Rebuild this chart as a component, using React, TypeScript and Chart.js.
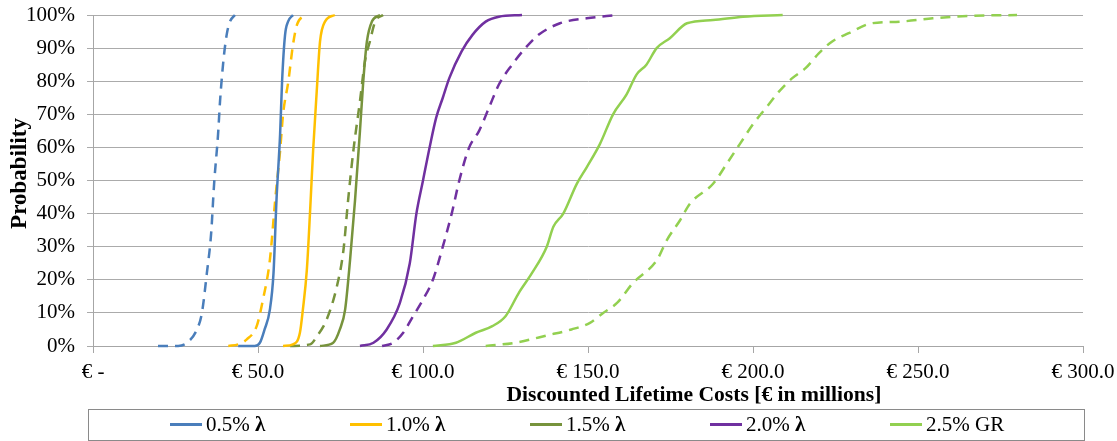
import React, { useEffect, useRef } from 'react';
import { Chart, registerables } from 'chart.js';

Chart.register(...registerables);

const FONT = '"Liberation Serif", "Times New Roman", Times, serif';

// Discounted lifetime cost (€ millions) vs cumulative probability (%)
const lambda05Solid: [number, number][] = [
  [44, 0], [49, 0], [50.6, 1], [52, 5], [53.6, 11], [54.7, 22], [55.6, 44], [56.7, 64], [57.3, 80], [58.2, 94], [59.1, 98], [60.6, 100],
];
const lambda05Dashed: [number, number][] = [
  [19.7, 0], [25.8, 0], [28.5, 1], [31.5, 5], [33, 10], [34.5, 22], [35.8, 34], [36.7, 49], [37.9, 64], [38.5, 74], [39.5, 86], [40.5, 94], [41.5, 98], [43, 100],
];
const lambda10Solid: [number, number][] = [
  [57.6, 0], [60.6, 0.5], [62.7, 4], [63.6, 11], [64.8, 23], [65.8, 41], [66.7, 59], [67.8, 77], [68.8, 92], [70.3, 98], [73.3, 100],
];
const lambda10Dashed: [number, number][] = [
  [41, 0], [44, 0.5], [46.6, 2], [49.6, 6], [51.5, 14], [53.6, 26], [55.2, 44], [56.7, 59], [57.6, 70], [59.2, 80], [60.6, 91], [61.8, 97], [64.2, 100],
];
const lambda15Solid: [number, number][] = [
  [68.8, 0], [72.8, 1], [74.8, 5], [76.4, 11], [77.9, 26], [79.4, 44], [80.9, 65], [81.9, 80], [83, 92], [84.5, 98], [87, 100],
];
const lambda15Dashed: [number, number][] = [
  [59.7, 0], [65.8, 0.5], [67.9, 3], [70.8, 8], [73.9, 18], [75.9, 29], [77.3, 44], [78.9, 59], [80.9, 74], [82.4, 86], [83.9, 92], [85.5, 98], [87.9, 100],
];
const lambda20Solid: [number, number][] = [
  [80.9, 0], [85, 1], [89, 5], [93, 13], [96, 25], [98, 40], [100, 50], [102, 60], [104, 69], [106, 75], [108, 81], [111.7, 89], [115, 94], [119, 98], [123, 99.5], [130, 100],
];
const lambda20Dashed: [number, number][] = [
  [87.6, 0], [91, 1], [94, 4], [97, 9], [100, 14], [103, 20], [106, 30], [108.7, 40], [111, 50], [114, 60], [117, 65], [120, 72], [123, 79], [127, 85], [131, 90], [135, 94], [141.5, 97.5], [149.6, 99], [158.7, 100],
];
const gr25Solid: [number, number][] = [
  [103, 0], [110, 1], [116, 4], [121, 6], [125, 9], [129, 16], [133, 22], [137.5, 30], [139.5, 36], [142.5, 40], [146.6, 49], [149.6, 54], [153.6, 61], [157.6, 70], [161.7, 76], [164.7, 82], [167.7, 85], [170.8, 90], [174.8, 93], [180, 97.5], [187.9, 98.5], [197, 99.5], [209, 100],
];
const gr25Dashed: [number, number][] = [
  [119, 0], [128, 1], [138, 3.3], [145, 5], [150.6, 7], [154.6, 10], [158.8, 13], [163.6, 19], [170.9, 26], [173.9, 32], [177.9, 38], [180.9, 43], [187.9, 49], [192, 55], [196, 61], [200, 67], [204, 72], [208, 77], [212, 81], [216, 84], [220, 88.5], [224, 92], [229, 94.5], [236, 97.5], [244.5, 98], [254.5, 99], [265, 99.7], [280, 100],
];

const seriesLabels = ['0.5% λ', '1.0% λ', '1.5% λ', '2.0% λ', '2.5% GR'];
const seriesColors = ['#4A7EBB', '#FFC000', '#77933C', '#7030A0', '#92D050'];
const solidSeries = [lambda05Solid, lambda10Solid, lambda15Solid, lambda20Solid, gr25Solid];
const dashedSeries = [lambda05Dashed, lambda10Dashed, lambda15Dashed, lambda20Dashed, gr25Dashed];

const xTicks = [0, 50, 100, 150, 200, 250, 300];
const xTitle = 'Discounted Lifetime Costs [€ in millions]';
const yTitle = 'Probability';

const toPoints = (arr: [number, number][]) => arr.map(([x, y]) => ({ x, y }));

const axisTitlesPlugin = {
  id: 'axisTitles',
  afterDraw(chart: any) {
    const { ctx, chartArea } = chart;
    ctx.save();
    ctx.fillStyle = '#000';
    ctx.textAlign = 'center';
    ctx.textBaseline = 'middle';
    // x title (Excel places it right of centre)
    ctx.font = `bold 21.6px ${FONT}`;
    ctx.fillText(xTitle, chartArea.left + (chartArea.right - chartArea.left) * 0.607, chartArea.bottom + 49);
    // y title
    ctx.font = `bold 23px ${FONT}`;
    ctx.translate(20, (chartArea.top + chartArea.bottom) / 2 - 7);
    ctx.rotate(-Math.PI / 2);
    ctx.fillText(yTitle, 0, 0);
    ctx.restore();
  },
};

export default function App() {
  const ref = useRef<HTMLCanvasElement>(null);

  useEffect(() => {
    const datasets: any[] = [];
    seriesLabels.forEach((label, i) => {
      datasets.push({
        label,
        data: toPoints(solidSeries[i]),
        borderColor: seriesColors[i],
        backgroundColor: seriesColors[i],
        borderWidth: 2.5,
        showLine: true,
        pointRadius: 0,
        cubicInterpolationMode: 'monotone',
        clip: 6,
      });
      datasets.push({
        label: label + ' (dashed)',
        data: toPoints(dashedSeries[i]),
        borderColor: seriesColors[i],
        backgroundColor: seriesColors[i],
        borderWidth: 2.5,
        borderDash: [10, 7],
        showLine: true,
        pointRadius: 0,
        cubicInterpolationMode: 'monotone',
        clip: 6,
      });
    });

    const chart = new Chart(ref.current!, {
      type: 'scatter',
      data: { datasets },
      plugins: [axisTitlesPlugin],
      options: {
        animation: false,
        responsive: false,
        maintainAspectRatio: false,
        layout: { padding: { left: 0, right: 34, top: 15, bottom: 33 } },
        plugins: { legend: { display: false }, tooltip: { enabled: false } },
        scales: {
          x: {
            type: 'linear',
            min: 0,
            max: 300,
            afterBuildTicks: (s: any) => { s.ticks = xTicks.map((v) => ({ value: v })); },
            afterFit: (s: any) => { s.height = 62; s.paddingLeft = 0; s.paddingRight = 0; },
            ticks: {
              font: { family: FONT, size: 21 },
              color: '#000',
              padding: 7,
              maxRotation: 0,
              callback: (v: any) => (Number(v) === 0 ? '€ -' : '€ ' + Number(v).toFixed(1)),
            },
            grid: { drawOnChartArea: false, drawTicks: true, tickLength: 7, color: '#A6A6A6' },
            border: { color: '#A6A6A6' },
          },
          y: {
            min: 0,
            max: 100,
            afterFit: (s: any) => { s.width = 93; s.paddingTop = 0; s.paddingBottom = 0; },
            ticks: {
              stepSize: 10,
              font: { family: FONT, size: 21 },
              color: '#000',
              padding: 12,
              callback: (v: any) => v + '%',
            },
            grid: { color: '#ABABAB', tickLength: 6 },
            border: { color: '#A6A6A6' },
          },
        },
      } as any,
    });
    return () => chart.destroy();
  }, []);

  return (
    <div style={{ position: 'fixed', left: 0, top: 0, width: 1117, height: 441, background: '#fff' }}>
      <canvas ref={ref} width={1117} height={441} style={{ display: 'block' }} />
      <div
        style={{
          position: 'absolute',
          left: 88,
          top: 409,
          width: 997,
          height: 32,
          border: '1.5px solid #8A8A8A',
          boxSizing: 'border-box',
          fontFamily: FONT,
          fontSize: 21,
          color: '#000',
        }}
      >
        {seriesLabels.map((label, i) => (
          <div
            key={label}
            style={{
              position: 'absolute',
              left: 81 + i * 180,
              top: 0,
              height: 29,
              display: 'flex',
              alignItems: 'center',
              whiteSpace: 'nowrap',
            }}
          >
            <span style={{ display: 'inline-block', width: 32, height: 3, background: seriesColors[i], marginRight: 4 }} />
            <span>
              {label.endsWith('λ') ? (
                <>
                  {label.slice(0, -1)}
                  <b>λ</b>
                </>
              ) : (
                label
              )}
            </span>
          </div>
        ))}
      </div>
    </div>
  );
}
